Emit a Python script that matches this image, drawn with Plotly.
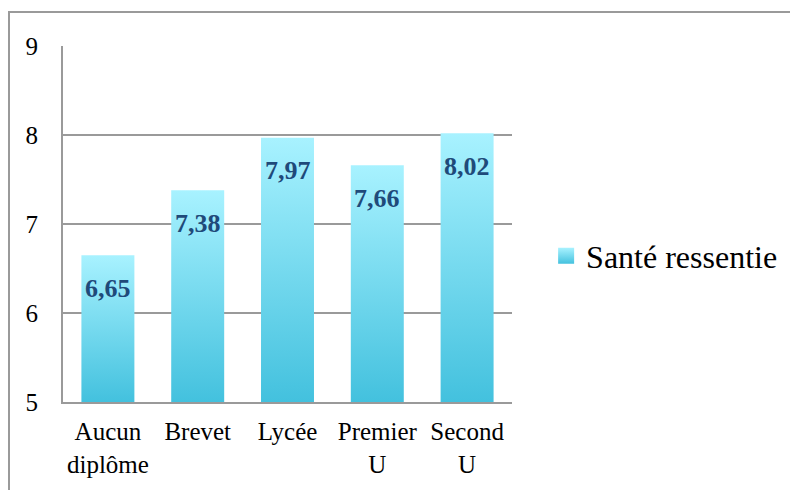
import plotly.graph_objects as go

categories = ["Aucun<br>diplôme", "Brevet", "Lycée", "Premier<br>U", "Second<br>U"]
values = [6.65, 7.38, 7.97, 7.66, 8.02]
value_labels = ["6,65", "7,38", "7,97", "7,66", "8,02"]
series_name = "Santé ressentie"
y_ticks = [5, 6, 7, 8, 9]

Y_MIN, Y_MAX = 5, 9
BAR_W = 0.59
TOP_C = "#a8f2ff"
BOT_C = "#43c1de"
FONT = "'Liberation Serif', 'Times New Roman', Times, serif"

fig = go.Figure()

for i, v in enumerate(values):
    x0, x1 = i - BAR_W / 2, i + BAR_W / 2
    fig.add_trace(go.Scatter(
        x=[x0, x1, x1, x0, x0],
        y=[Y_MIN, Y_MIN, v, v, Y_MIN],
        mode="lines",
        line=dict(width=0, color=BOT_C),
        fill="toself",
        fillgradient=dict(type="vertical", colorscale=[[0, BOT_C], [1, TOP_C]],
                          start=Y_MIN, stop=v),
        showlegend=False,
        hoverinfo="skip",
    ))
    fig.add_annotation(x=i, y=v, text="<b>" + value_labels[i] + "</b>",
                       showarrow=False, yanchor="middle", yshift=-33,
                       font=dict(family=FONT, size=26, color="#1f4a7a"))

# legend entry
fig.add_trace(go.Scatter(
    x=[None], y=[None], mode="markers", name=series_name,
    marker=dict(symbol="square", size=16, color=TOP_C,
                gradient=dict(type="vertical", color=BOT_C)),
    showlegend=True,
))

PW, PH = 449, 356
fig.add_shape(type="rect", xref="paper", yref="paper",
              x0=(1 - 55) / PW, x1=(820 - 55) / PW,
              y0=-120 / PH, y1=(394 - 4) / PH,
              line=dict(color="#9a9a9a", width=2), layer="below")

fig.update_layout(
    width=798, height=490,
    margin=dict(l=55, r=294, t=38, b=96),
    paper_bgcolor="white", plot_bgcolor="white",
    font=dict(family=FONT, color="black"),
    legend=dict(x=1.076, y=0.41, xanchor="left", yanchor="middle",
                font=dict(family=FONT, size=32), bgcolor="rgba(0,0,0,0)"),
    xaxis=dict(range=[-0.5, 4.5], tickvals=list(range(len(categories))),
               ticktext=categories, showgrid=False, zeroline=False,
               showline=True, linecolor="#9a9a9a", linewidth=2,
               tickfont=dict(family=FONT, size=25), ticks="",
               ticklabelstandoff=6, fixedrange=True),
    yaxis=dict(range=[Y_MIN, Y_MAX], tickvals=y_ticks, showgrid=True,
               gridcolor="#9a9a9a", gridwidth=2, zeroline=False,
               showline=True, linecolor="#9a9a9a", linewidth=2,
               tickfont=dict(family=FONT, size=25), ticks="",
               ticklabelstandoff=18, fixedrange=True),
)

fig.write_html("out.html")
